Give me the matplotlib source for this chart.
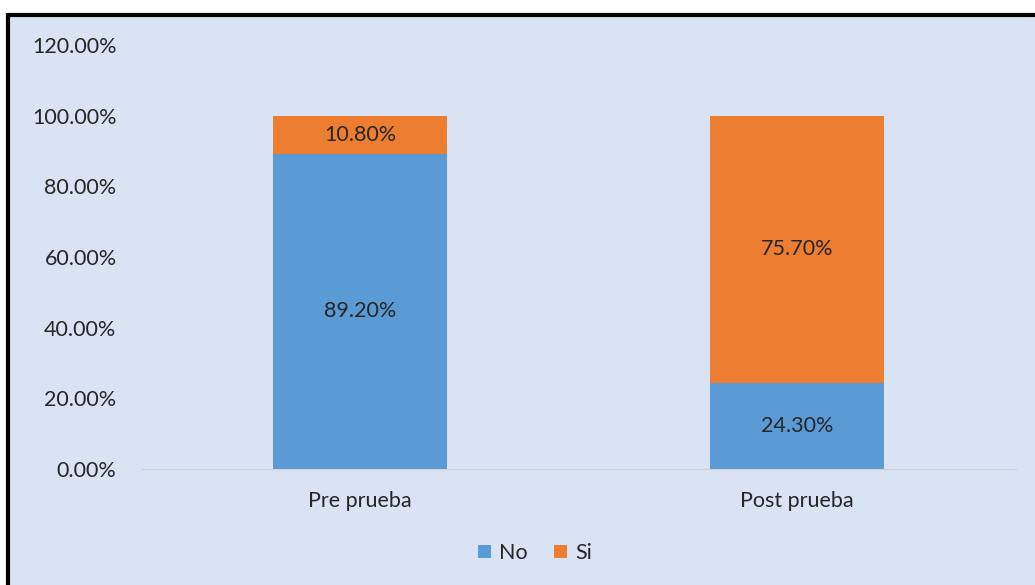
import matplotlib.pyplot as plt
from matplotlib.patches import Rectangle

categories = ['Pre prueba', 'Post prueba']
no_vals = [0.892, 0.243]
si_vals = [0.108, 0.757]
series_names = ['No', 'Si']

blue = '#5B9BD5'
orange = '#ED7D31'
bg = '#DAE3F3'
fs = 15.5

plt.rcParams['font.family'] = ['Lato', 'DejaVu Sans']

fig = plt.figure(figsize=(10.35, 5.85), dpi=100, facecolor='white')
# chart frame (black border, light blue fill)
fig.patches.append(Rectangle((8/1035, -0.05), 1.1, 1 - 15/585 + 0.05, transform=fig.transFigure,
                             facecolor=bg, edgecolor='black', linewidth=3, zorder=-5))

ax = fig.add_axes([141.5/1035, 1 - 469/585, 874/1035, 424/585])
ax.set_zorder(1)
ax.set_facecolor('none')
x = range(len(categories))
b1 = ax.bar(x, no_vals, 0.4, color=blue, label=series_names[0])
b2 = ax.bar(x, si_vals, 0.4, bottom=no_vals, color=orange, label=series_names[1])

for i in x:
    ax.text(i, no_vals[i] / 2, f'{no_vals[i]*100:.2f}%', ha='center', va='center', fontsize=fs, color='#262626')
    ax.text(i, no_vals[i] + si_vals[i] / 2, f'{si_vals[i]*100:.2f}%', ha='center', va='center', fontsize=fs, color='#262626')

ax.set_xlim(-0.5, 1.5)
ax.set_ylim(0, 1.2)
ax.set_yticks([0, 0.2, 0.4, 0.6, 0.8, 1.0, 1.2])
ax.set_yticklabels([f'{v*100:.2f}%' for v in ax.get_yticks()])
ax.set_xticks(list(x))
ax.set_xticklabels(categories)
ax.tick_params(axis='y', length=0, pad=18, labelsize=fs, labelcolor='#262626')
ax.tick_params(axis='x', length=0, pad=16, labelsize=fs, labelcolor='#262626')
for s in ['top', 'right', 'left']:
    ax.spines[s].set_visible(False)
ax.spines['bottom'].set_color('#D0D0D0')

ax.legend(loc='center', bbox_to_anchor=(535/1035, 1 - 553/585), bbox_transform=fig.transFigure,
          ncol=2, frameon=False, fontsize=fs, handlelength=0.6, handleheight=0.6,
          handletextpad=0.4, columnspacing=1.2, labelcolor='#262626')

fig.savefig('out.png', dpi=100, facecolor='white')
